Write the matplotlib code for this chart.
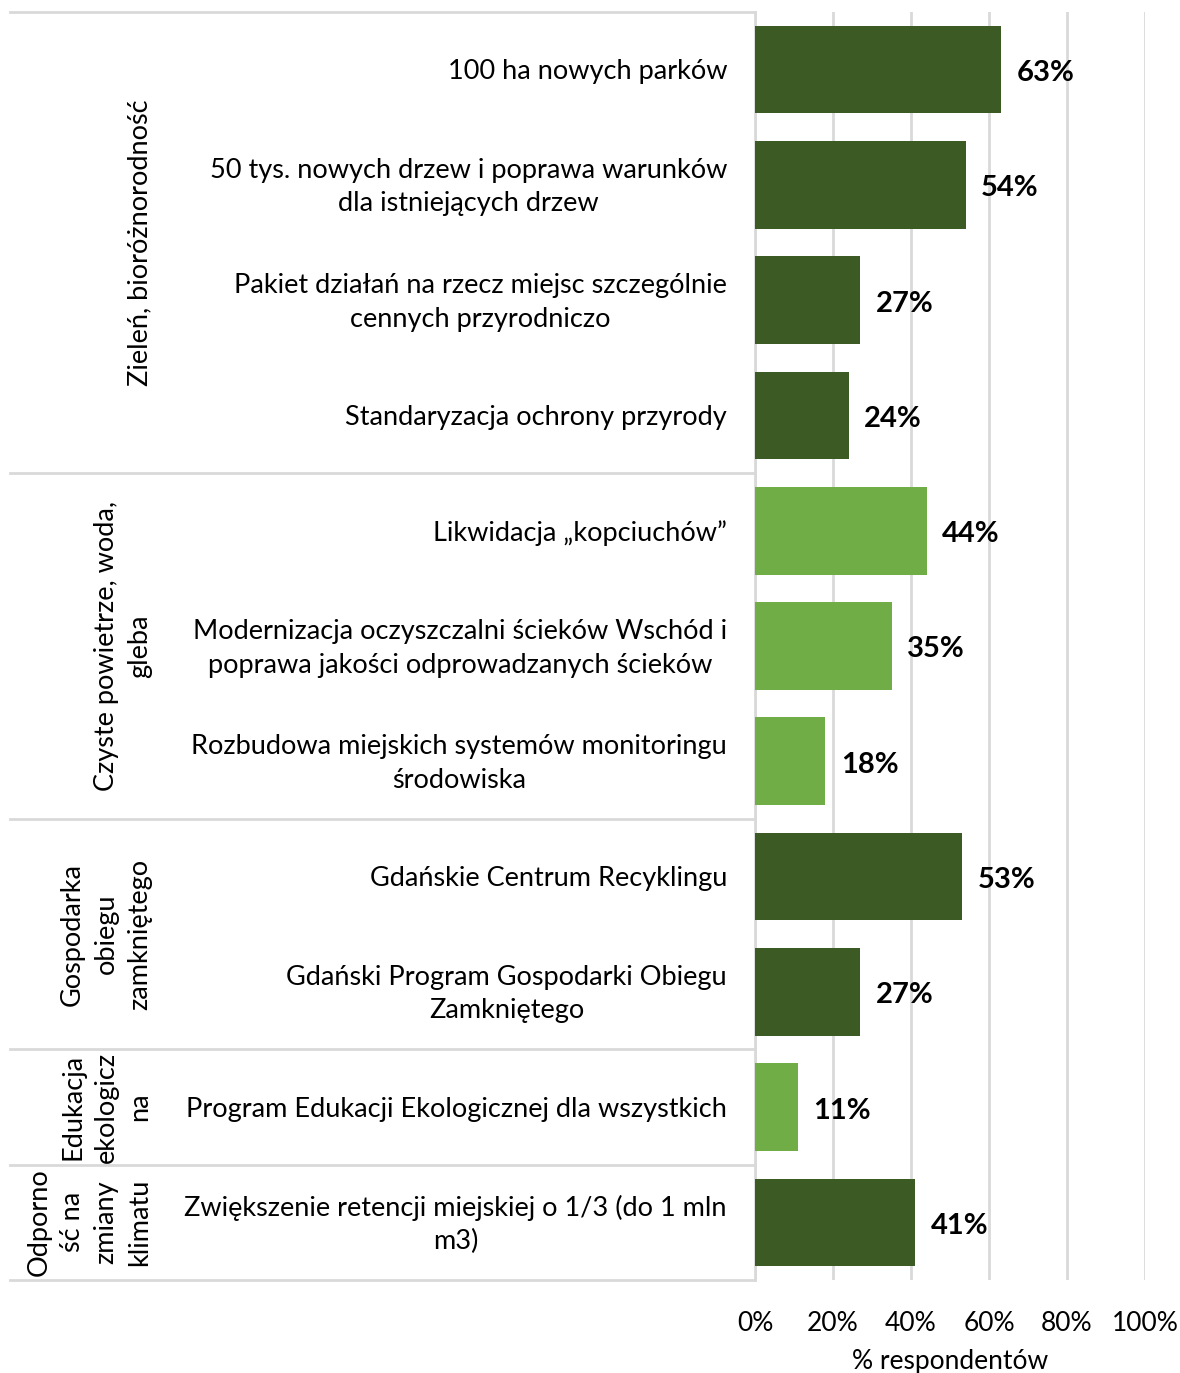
import matplotlib
matplotlib.use("Agg")
import matplotlib.pyplot as plt
import matplotlib.transforms as mtransforms

plt.rcParams['font.family'] = ['Lato', 'DejaVu Sans']

# data
labels = [
    "100 ha nowych parków",
    "50 tys. nowych drzew i poprawa warunków\ndla istniejących drzew",
    "Pakiet działań na rzecz miejsc szczególnie\ncennych przyrodniczo",
    "Standaryzacja ochrony przyrody",
    "Likwidacja „kopciuchów”",
    "Modernizacja oczyszczalni ścieków Wschód i\npoprawa jakości odprowadzanych ścieków",
    "Rozbudowa miejskich systemów monitoringu\nśrodowiska",
    "Gdańskie Centrum Recyklingu",
    "Gdański Program Gospodarki Obiegu\nZamkniętego",
    "Program Edukacji Ekologicznej dla wszystkich",
    "Zwiększenie retencji miejskiej o 1/3 (do 1 mln\nm3)",
]
values = [63, 54, 27, 24, 44, 35, 18, 53, 27, 11, 41]
groups = [
    "Zieleń, bioróżnorodność",
    "Czyste powietrze, woda,\ngleba",
    "Gospodarka\nobiegu\nzamkniętego",
    "Edukacja\nekologicz\nna",
    "Odporno\nść na\nzmiany\nklimatu",
]
group_sizes = [4, 3, 2, 1, 1]

dark = "#3B5A24"
light = "#70AD47"
group_colors = [dark, light, dark, light, dark]

colors = []
for c, n in zip(group_colors, group_sizes):
    colors += [c] * n

fig = plt.figure(figsize=(11.8, 13.73), dpi=100)
W, H = 1180, 1373
x0, x1 = 755, 1145
y0, y1 = 12, 1280
ax = fig.add_axes([x0 / W, 1 - y1 / H, (x1 - x0) / W, (y1 - y0) / H])

n = len(values)
ypos = list(range(n))
ax.barh(ypos, values, height=0.76, color=colors, zorder=3)
ax.set_ylim(n - 0.5, -0.5)
ax.set_xlim(0, 100)
ax.set_xticks([0, 20, 40, 60, 80, 100])
ax.set_xticklabels([f"{t}%" for t in [0, 20, 40, 60, 80, 100]], fontsize=19)
ax.tick_params(axis='x', length=0, pad=22)
ax.set_yticks([])
ax.grid(axis='x', color="#D9D9D9", linewidth=2, zorder=0)
for s in ["top", "right", "bottom"]:
    ax.spines[s].set_visible(False)
ax.spines["left"].set_color("#D9D9D9")
ax.spines["left"].set_linewidth(2)
ax.set_xlabel("% respondentów", fontsize=19, labelpad=10)

for y, v in zip(ypos, values):
    ax.text(v + 4, y + 0.03, f"{v}%", va='center', ha='left', fontsize=21, fontweight='bold')

# category labels
trans = mtransforms.blended_transform_factory(ax.transAxes, ax.transData)
lab_x = (727 - x0) / (x1 - x0)
for y, lab in zip(ypos, labels):
    ax.text(lab_x, y + 0.02, lab, transform=trans, ha='right', va='center',
            multialignment='center', fontsize=19.5, linespacing=1.42)

# group labels and separator lines
left_x = (10 - x0) / (x1 - x0)
grp_x = (152 - x0) / (x1 - x0)
start = 0
bounds = [-0.5]
for g, size in zip(groups, group_sizes):
    mid = start + (size - 1) / 2
    ax.text(grp_x, mid, g, transform=trans, rotation=90, ha='right', va='center',
            multialignment='center', fontsize=19.5, linespacing=1.42)
    start += size
    bounds.append(start - 0.5)
for b in bounds:
    ax.plot([left_x, 0], [b, b], transform=trans, color="#D9D9D9", linewidth=2, clip_on=False)

fig.savefig("out.png", dpi=100)
